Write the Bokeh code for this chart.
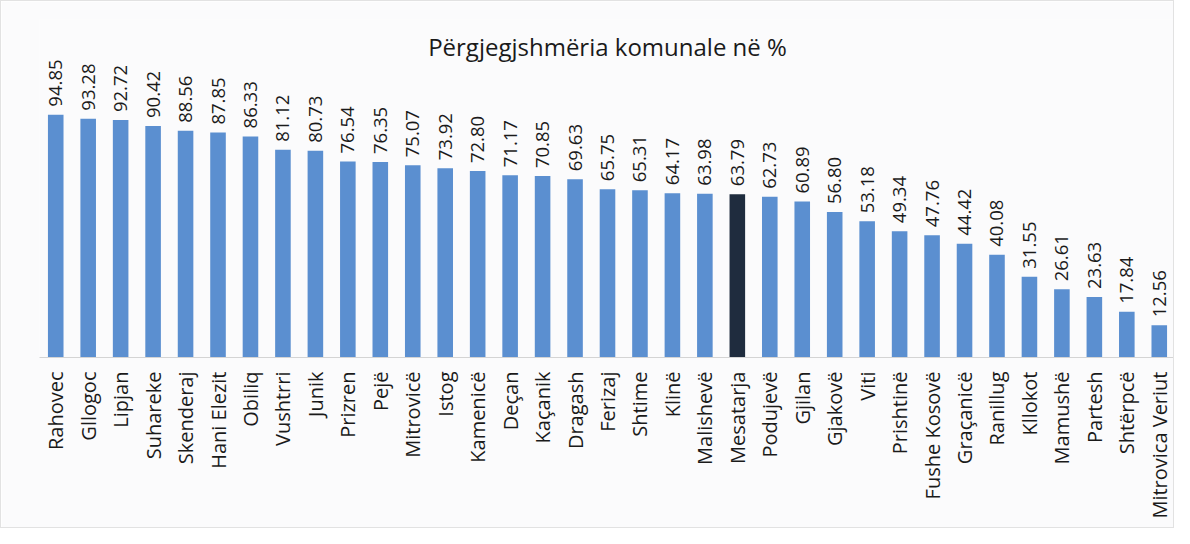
import math
from bokeh.plotting import figure
from bokeh.models import ColumnDataSource, Range1d, FactorRange, Label
from bokeh.core.properties import value
from bokeh.embed import file_html
from bokeh.resources import INLINE

municipalities = ["Rahovec", "Gllogoc", "Lipjan", "Suhareke", "Skenderaj", "Hani Elezit",
                  "Obiliq", "Vushtrri", "Junik", "Prizren", "Pejë", "Mitrovicë", "Istog",
                  "Kamenicë", "Deçan", "Kaçanik", "Dragash", "Ferizaj", "Shtime", "Klinë",
                  "Malishevë", "Mesatarja", "Podujevë", "Gjilan", "Gjakovë", "Viti",
                  "Prishtinë", "Fushe Kosovë", "Graçanicë", "Ranillug", "Kllokot",
                  "Mamushë", "Partesh", "Shtërpcë", "Mitrovica Veriut"]
percent = [94.85, 93.28, 92.72, 90.42, 88.56, 87.85, 86.33, 81.12, 80.73, 76.54, 76.35,
           75.07, 73.92, 72.80, 71.17, 70.85, 69.63, 65.75, 65.31, 64.17, 63.98, 63.79,
           62.73, 60.89, 56.80, 53.18, 49.34, 47.76, 44.42, 40.08, 31.55, 26.61, 23.63,
           17.84, 12.56]
title_text = "Përgjegjshmëria komunale në %"

BLUE = "#5b8fd0"
DARK = "#1f2c3e"
colors = [DARK if m == "Mesatarja" else BLUE for m in municipalities]
labels = ["%.2f" % v for v in percent]

src = ColumnDataSource(dict(x=municipalities, y=percent, c=colors, lab=labels))

FONT = "Open Sans"
W, H = 1174, 528
FRAME_H = 338
p = figure(width=W, height=H, output_backend="svg", toolbar_location=None,
           x_range=FactorRange(*municipalities, range_padding=0),
           y_range=Range1d(0, 132),
           min_border_left=38, min_border_right=0, min_border_top=18,
           min_border_bottom=H - 18 - FRAME_H)
p.background_fill_color = "#fbfbfc"
p.border_fill_color = "#fbfbfc"
p.outline_line_color = None
p.styles = {"border": "1px solid #e2e2e2"}

p.vbar(x="x", top="y", width=0.48, fill_color="c", line_color=None, source=src)
p.text(x="x", y="y", text="lab", source=src, angle=math.pi / 2,
       text_align="left", text_baseline="middle", y_offset=-8,
       text_font=value(FONT), text_font_size="18.5px", text_color="#1a1a1a")

p.add_layout(Label(x=1136 / 2, y=FRAME_H - 27, x_units="screen", y_units="screen",
                   text=title_text, text_align="center", text_baseline="middle",
                   text_font=FONT, text_font_size="24px", text_color="#1a1a1a"))

p.yaxis.visible = False
p.xgrid.visible = False
p.ygrid.visible = False
xa = p.xaxis[0]
xa.major_label_orientation = math.pi / 2
xa.major_label_text_font = FONT
xa.major_label_text_font_size = "20px"
xa.major_label_text_color = "#1a1a1a"
xa.major_label_standoff = 8
xa.major_tick_line_color = None
xa.minor_tick_line_color = None
xa.axis_line_color = "#d4d4d4"

open("out.html", "w").write(file_html(p, INLINE))
